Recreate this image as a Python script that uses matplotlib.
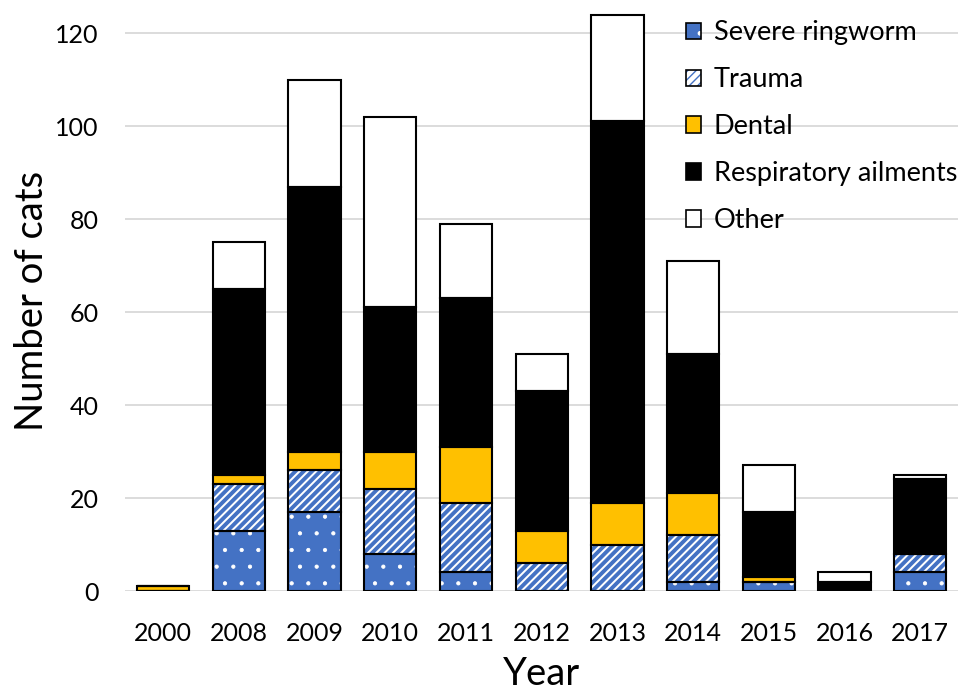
import matplotlib.pyplot as plt
import numpy as np
from matplotlib.patches import Patch
from matplotlib.legend_handler import HandlerTuple

plt.rcParams['font.family'] = ['Lato', 'DejaVu Sans']

# Data
years = ['2000', '2008', '2009', '2010', '2011', '2012', '2013', '2014', '2015', '2016', '2017']
ringworm = [0, 13, 17, 8, 4, 0, 0, 2, 2, 0, 4]
trauma = [0, 10, 9, 14, 15, 6, 10, 10, 0, 0, 4]
dental = [1, 2, 4, 8, 12, 7, 9, 9, 1, 0, 0]
respiratory = [0, 40, 57, 31, 32, 30, 82, 30, 14, 2, 16]
other = [0, 10, 23, 41, 16, 8, 23, 20, 10, 2, 1]

labels = ['Severe ringworm', 'Trauma', 'Dental', 'Respiratory ailments', 'Other']
series = [ringworm, trauma, dental, respiratory, other]
# (facecolor, hatch, hatch colour, hatch linewidth)
styles = [('#4472C4', '.', 'white', 0.6),
          ('white', '////', '#4472C4', 2.8),
          ('#FFC000', None, None, 1.0),
          ('black', None, None, 1.0),
          ('white', None, None, 1.0)]

fig = plt.figure(figsize=(9.63, 6.91), dpi=100)
ax = fig.add_axes([0.130, 0.1447, 0.865, 0.841])

x = np.arange(len(years))
width = 0.69
bottom = np.zeros(len(years))
handles = []
for vals, (fc, hatch, hc, hlw) in zip(series, styles):
    vals = np.array(vals, dtype=float)
    with plt.rc_context({'hatch.linewidth': hlw}):
        # fill + hatch layer
        ax.bar(x, vals, width, bottom=bottom, color=fc, hatch=hatch,
               edgecolor=hc if hc else fc, linewidth=0, zorder=2)
        h1 = Patch(facecolor=fc, hatch=hatch, edgecolor=hc if hc else fc, linewidth=0)
    # outline layer
    ax.bar(x, vals, width, bottom=bottom, fill=False,
           edgecolor='black', linewidth=1.5, zorder=3)
    h2 = Patch(fill=False, edgecolor='black', linewidth=1.2)
    handles.append((h1, h2))
    bottom += vals

ax.set_xlim(-0.5, len(years) - 0.5)
ax.set_ylim(0, 125)
ax.set_yticks(range(0, 121, 20))
ax.set_xticks(x)
ax.set_xticklabels(years)
ax.tick_params(axis='both', length=0, labelsize=18)
ax.tick_params(axis='x', pad=22)
ax.tick_params(axis='y', pad=19)
ax.yaxis.grid(True, color='#D9D9D9', linewidth=1.3, zorder=0)
ax.set_axisbelow(True)
for s in ax.spines.values():
    s.set_visible(False)

ax.set_xlabel('Year', fontsize=27.5, labelpad=8)
ax.set_ylabel('Number of cats', fontsize=27.5, labelpad=4)

leg = ax.legend(handles, labels, handler_map={tuple: HandlerTuple(ndivide=1, pad=0)},
                loc='upper right', bbox_to_anchor=(1.018, 1.01), frameon=False,
                fontsize=19.5, handlelength=0.55, handleheight=0.55, handletextpad=0.45,
                labelspacing=0.81, borderaxespad=0.2)

fig.savefig('out.png', dpi=100)
